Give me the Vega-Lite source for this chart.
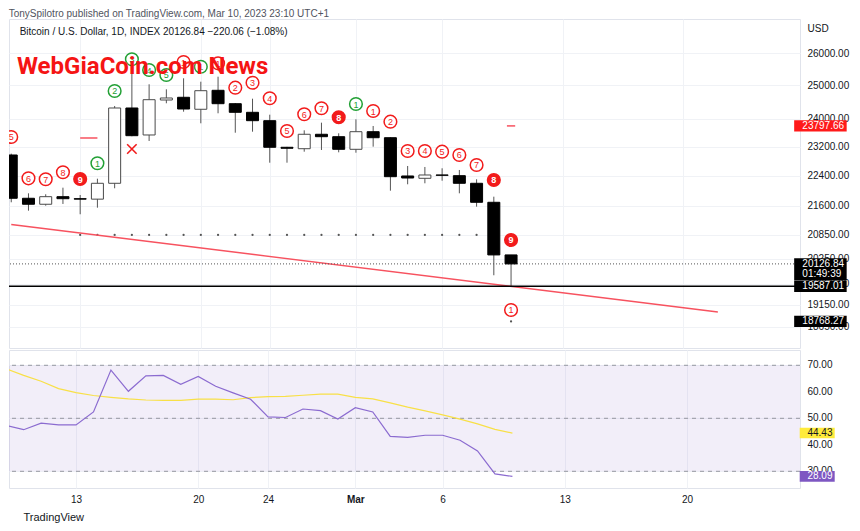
{
  "$schema": "https://vega.github.io/schema/vega-lite/v6.json",
  "background": "white",
  "padding": {"left": 7, "top": 8, "right": 0, "bottom": 0},
  "autosize": {"type": "pad"},
  "config": {
    "font": "Liberation Sans",
    "view": {"stroke": "#E0E3EB"},
    "axis": {"gridColor": "#F0F2F6", "labelColor": "#131722", "labelFontSize": 10, "ticks": false, "domain": false, "title": null, "labelFont": "Liberation Sans", "labelOverlap": false},
    "concat": {"spacing": 0}
  },
  "title": {"text": "TonySpilotro published on TradingView.com, Mar 10, 2023 23:10 UTC+1", "anchor": "start", "fontSize": 10, "fontWeight": "normal", "color": "#50535E", "offset": 0, "dx": 1},
  "spacing": 0,
  "datasets": {
    "candles": [
      {"date": "2023-02-09T00:00:00Z", "o": 22972, "h": 23010, "l": 21690, "c": 21796},
      {"date": "2023-02-10T00:00:00Z", "o": 21796, "h": 21928, "l": 21470, "c": 21638},
      {"date": "2023-02-11T00:00:00Z", "o": 21638, "h": 21902, "l": 21601, "c": 21838},
      {"date": "2023-02-12T00:00:00Z", "o": 21838, "h": 22078, "l": 21646, "c": 21785},
      {"date": "2023-02-13T00:00:00Z", "o": 21785, "h": 21883, "l": 21377, "c": 21773},
      {"date": "2023-02-14T00:00:00Z", "o": 21773, "h": 22320, "l": 21548, "c": 22196},
      {"date": "2023-02-15T00:00:00Z", "o": 22196, "h": 24380, "l": 22062, "c": 24321},
      {"date": "2023-02-16T00:00:00Z", "o": 24321, "h": 25450, "l": 23500, "c": 23517},
      {"date": "2023-02-17T00:00:00Z", "o": 23537, "h": 25031, "l": 23366, "c": 24567},
      {"date": "2023-02-18T00:00:00Z", "o": 24558, "h": 24879, "l": 24460, "c": 24618},
      {"date": "2023-02-19T00:00:00Z", "o": 24639, "h": 25214, "l": 24212, "c": 24291},
      {"date": "2023-02-20T00:00:00Z", "o": 24283, "h": 25110, "l": 23873, "c": 24837},
      {"date": "2023-02-21T00:00:00Z", "o": 24849, "h": 25263, "l": 24165, "c": 24448},
      {"date": "2023-02-22T00:00:00Z", "o": 24448, "h": 24466, "l": 23602, "c": 24194},
      {"date": "2023-02-23T00:00:00Z", "o": 24194, "h": 24597, "l": 23631, "c": 23949},
      {"date": "2023-02-24T00:00:00Z", "o": 23949, "h": 24124, "l": 22758, "c": 23188},
      {"date": "2023-02-25T00:00:00Z", "o": 23188, "h": 23200, "l": 22758, "c": 23160},
      {"date": "2023-02-26T00:00:00Z", "o": 23148, "h": 23671, "l": 23064, "c": 23557},
      {"date": "2023-02-27T00:00:00Z", "o": 23557, "h": 23891, "l": 23112, "c": 23488},
      {"date": "2023-02-28T00:00:00Z", "o": 23488, "h": 23585, "l": 23047, "c": 23131},
      {"date": "2023-03-01T00:00:00Z", "o": 23131, "h": 23989, "l": 23036, "c": 23631},
      {"date": "2023-03-02T00:00:00Z", "o": 23631, "h": 23795, "l": 23205, "c": 23459},
      {"date": "2023-03-03T00:00:00Z", "o": 23459, "h": 23470, "l": 21998, "c": 22375},
      {"date": "2023-03-04T00:00:00Z", "o": 22394, "h": 22667, "l": 22169, "c": 22339},
      {"date": "2023-03-05T00:00:00Z", "o": 22331, "h": 22640, "l": 22196, "c": 22421},
      {"date": "2023-03-06T00:00:00Z", "o": 22421, "h": 22604, "l": 22266, "c": 22413},
      {"date": "2023-03-07T00:00:00Z", "o": 22402, "h": 22558, "l": 21928, "c": 22196},
      {"date": "2023-03-08T00:00:00Z", "o": 22196, "h": 22304, "l": 21575, "c": 21690},
      {"date": "2023-03-09T00:00:00Z", "o": 21690, "h": 21838, "l": 19851, "c": 20346.9},
      {"date": "2023-03-10T00:00:00Z", "o": 20346.9, "h": 20347, "l": 19587.01, "c": 20126.84}
    ],
    "td": [
      {"date": "2023-02-09T00:00:00Z", "value": 23480, "n": "5", "kind": "sell"},
      {"date": "2023-02-10T00:00:00Z", "value": 22331, "n": "6", "kind": "sell"},
      {"date": "2023-02-11T00:00:00Z", "value": 22304, "n": "7", "kind": "sell"},
      {"date": "2023-02-12T00:00:00Z", "value": 22495, "n": "8", "kind": "sell"},
      {"date": "2023-02-13T00:00:00Z", "value": 22312, "n": "9", "kind": "sellfill"},
      {"date": "2023-02-14T00:00:00Z", "value": 22742, "n": "1", "kind": "buy"},
      {"date": "2023-02-15T00:00:00Z", "value": 24828, "n": "2", "kind": "buy"},
      {"date": "2023-02-16T00:00:00Z", "value": 25802, "n": "3", "kind": "buy"},
      {"date": "2023-02-17T00:00:00Z", "value": 25469, "n": "4", "kind": "buy"},
      {"date": "2023-02-18T00:00:00Z", "value": 25315, "n": "5", "kind": "buy"},
      {"date": "2023-02-19T00:00:00Z", "value": 25717, "n": "1", "kind": "sell"},
      {"date": "2023-02-20T00:00:00Z", "value": 25571, "n": "1", "kind": "buy"},
      {"date": "2023-02-21T00:00:00Z", "value": 25677, "n": "1", "kind": "sell"},
      {"date": "2023-02-22T00:00:00Z", "value": 24928, "n": "2", "kind": "sell"},
      {"date": "2023-02-23T00:00:00Z", "value": 25079, "n": "3", "kind": "sell"},
      {"date": "2023-02-24T00:00:00Z", "value": 24609, "n": "4", "kind": "sell"},
      {"date": "2023-02-25T00:00:00Z", "value": 23651, "n": "5", "kind": "sell"},
      {"date": "2023-02-26T00:00:00Z", "value": 24136, "n": "6", "kind": "sell"},
      {"date": "2023-02-27T00:00:00Z", "value": 24312, "n": "7", "kind": "sell"},
      {"date": "2023-02-28T00:00:00Z", "value": 24048, "n": "8", "kind": "sellfill"},
      {"date": "2023-03-01T00:00:00Z", "value": 24439, "n": "1", "kind": "buy"},
      {"date": "2023-03-02T00:00:00Z", "value": 24232, "n": "1", "kind": "sell"},
      {"date": "2023-03-03T00:00:00Z", "value": 23920, "n": "2", "kind": "sell"},
      {"date": "2023-03-04T00:00:00Z", "value": 23084, "n": "3", "kind": "sell"},
      {"date": "2023-03-05T00:00:00Z", "value": 23084, "n": "4", "kind": "sell"},
      {"date": "2023-03-06T00:00:00Z", "value": 23064, "n": "5", "kind": "sell"},
      {"date": "2023-03-07T00:00:00Z", "value": 22972, "n": "6", "kind": "sell"},
      {"date": "2023-03-08T00:00:00Z", "value": 22695, "n": "7", "kind": "sell"},
      {"date": "2023-03-09T00:00:00Z", "value": 22285, "n": "8", "kind": "sellfill"},
      {"date": "2023-03-10T00:00:00Z", "value": 20720, "n": "9", "kind": "sellfill"},
      {"date": "2023-03-10T00:00:00Z", "value": 19032, "n": "1", "kind": "sell"}
    ],
    "dots": [
      {"date": "2023-02-13T00:00:00Z", "value": 20846}, {"date": "2023-02-14T00:00:00Z", "value": 20846}, {"date": "2023-02-15T00:00:00Z", "value": 20846},
      {"date": "2023-02-16T00:00:00Z", "value": 20846}, {"date": "2023-02-17T00:00:00Z", "value": 20846}, {"date": "2023-02-18T00:00:00Z", "value": 20846},
      {"date": "2023-02-19T00:00:00Z", "value": 20846}, {"date": "2023-02-20T00:00:00Z", "value": 20846}, {"date": "2023-02-21T00:00:00Z", "value": 20846},
      {"date": "2023-02-22T00:00:00Z", "value": 20846}, {"date": "2023-02-23T00:00:00Z", "value": 20846}, {"date": "2023-02-24T00:00:00Z", "value": 20846},
      {"date": "2023-02-25T00:00:00Z", "value": 20846}, {"date": "2023-02-26T00:00:00Z", "value": 20846}, {"date": "2023-02-27T00:00:00Z", "value": 20846},
      {"date": "2023-02-28T00:00:00Z", "value": 20846}, {"date": "2023-03-01T00:00:00Z", "value": 20846}, {"date": "2023-03-02T00:00:00Z", "value": 20846},
      {"date": "2023-03-03T00:00:00Z", "value": 20846}, {"date": "2023-03-04T00:00:00Z", "value": 20846}, {"date": "2023-03-05T00:00:00Z", "value": 20846},
      {"date": "2023-03-06T00:00:00Z", "value": 20846}, {"date": "2023-03-07T00:00:00Z", "value": 20846}, {"date": "2023-03-08T00:00:00Z", "value": 20846},
      {"date": "2023-03-10T00:00:00Z", "value": 18768.27}
    ],
    "trend": [
      {"date": "2023-02-09T00:00:00Z", "value": 21111},
      {"date": "2023-03-22T00:00:00Z", "value": 18986}
    ],
    "risk": [
      {"start": "2023-02-13T00:00:00Z", "end": "2023-02-14T00:00:00Z", "value": 23451},
      {"start": "2023-03-09T18:15:00Z", "end": "2023-03-10T05:45:00Z", "value": 23797.66}
    ],
    "xmarks": [{"date": "2023-02-16T00:00:00Z", "value": 23140}],
    "tags": [
      {"value": 23797.66, "kind": "resistance", "sub": ""},
      {"value": 20126.84, "kind": "last", "sub": "01:49:39"},
      {"value": 19587.01, "kind": "low", "sub": ""},
      {"value": 18768.27, "kind": "support", "sub": ""}
    ],
    "notes": [
      {"text": "Bitcoin / U.S. Dollar, 1D, INDEX  20126.84  \u2212220.06 (\u22121.08%)", "kind": "header"},
      {"text": "WebGiaCoin.com News", "kind": "watermark"}
    ],
    "rsi": [
      {"date": "2023-02-09T00:00:00Z", "rsi": 47.3, "ma": 68.7},
      {"date": "2023-02-10T00:00:00Z", "rsi": 45.7, "ma": 66.2},
      {"date": "2023-02-11T00:00:00Z", "rsi": 48.2, "ma": 64.0},
      {"date": "2023-02-12T00:00:00Z", "rsi": 47.5, "ma": 61.2},
      {"date": "2023-02-13T00:00:00Z", "rsi": 47.5, "ma": 59.7},
      {"date": "2023-02-14T00:00:00Z", "rsi": 52.4, "ma": 58.6},
      {"date": "2023-02-15T00:00:00Z", "rsi": 68.2, "ma": 57.9},
      {"date": "2023-02-16T00:00:00Z", "rsi": 60.2, "ma": 57.3},
      {"date": "2023-02-17T00:00:00Z", "rsi": 66.0, "ma": 56.9},
      {"date": "2023-02-18T00:00:00Z", "rsi": 66.2, "ma": 56.8},
      {"date": "2023-02-19T00:00:00Z", "rsi": 62.8, "ma": 56.8},
      {"date": "2023-02-20T00:00:00Z", "rsi": 65.8, "ma": 57.2},
      {"date": "2023-02-21T00:00:00Z", "rsi": 62.1, "ma": 57.2},
      {"date": "2023-02-22T00:00:00Z", "rsi": 59.6, "ma": 57.0},
      {"date": "2023-02-23T00:00:00Z", "rsi": 57.2, "ma": 57.8},
      {"date": "2023-02-24T00:00:00Z", "rsi": 50.5, "ma": 58.2},
      {"date": "2023-02-25T00:00:00Z", "rsi": 50.3, "ma": 58.3},
      {"date": "2023-02-26T00:00:00Z", "rsi": 53.5, "ma": 58.7},
      {"date": "2023-02-27T00:00:00Z", "rsi": 52.9, "ma": 59.1},
      {"date": "2023-02-28T00:00:00Z", "rsi": 49.7, "ma": 59.1},
      {"date": "2023-03-01T00:00:00Z", "rsi": 54.0, "ma": 57.9},
      {"date": "2023-03-02T00:00:00Z", "rsi": 52.4, "ma": 57.3},
      {"date": "2023-03-03T00:00:00Z", "rsi": 43.2, "ma": 55.8},
      {"date": "2023-03-04T00:00:00Z", "rsi": 42.8, "ma": 54.2},
      {"date": "2023-03-05T00:00:00Z", "rsi": 43.6, "ma": 52.8},
      {"date": "2023-03-06T00:00:00Z", "rsi": 43.6, "ma": 51.3},
      {"date": "2023-03-07T00:00:00Z", "rsi": 41.7, "ma": 49.7},
      {"date": "2023-03-08T00:00:00Z", "rsi": 37.7, "ma": 47.9},
      {"date": "2023-03-09T00:00:00Z", "rsi": 29.0, "ma": 45.8},
      {"date": "2023-03-10T00:00:00Z", "rsi": 28.09, "ma": 44.43}
    ],
    "rsiBand": [{"low": 30, "high": 70}],
    "rsiLevels": [{"value": 70}, {"value": 50}, {"value": 30}],
    "rsiTicks": [{"value": 70}, {"value": 60}, {"value": 50}, {"value": 40}, {"value": 30}],
    "rsiTags": [
      {"value": 44.43, "kind": "ma"},
      {"value": 28.09, "kind": "rsi"}
    ]
  },
  "vconcat": [
    {
      "width": 791,
      "height": 329,
      "layer": [
        {
          "data": {"name": "candles"},
          "mark": {"type": "rule", "color": "#555555", "strokeWidth": 1, "clip": true},
          "encoding": {
            "x": {"field": "date", "type": "temporal",
              "scale": {"type": "utc", "domain": [{"year": 2023, "month": 2, "date": 9, "hours": 3, "minutes": 51, "utc": true}, {"year": 2023, "month": 3, "date": 26, "hours": 11, "minutes": 24, "utc": true}]},
              "axis": {"values": [{"year": 2023, "month": 2, "date": 13, "utc": true}, {"year": 2023, "month": 2, "date": 20, "utc": true}, {"year": 2023, "month": 2, "date": 24, "utc": true}, {"year": 2023, "month": 3, "date": 1, "utc": true}, {"year": 2023, "month": 3, "date": 6, "utc": true}, {"year": 2023, "month": 3, "date": 13, "utc": true}, {"year": 2023, "month": 3, "date": 20, "utc": true}], "labels": false, "grid": true}},
            "y": {"field": "l", "type": "quantitative",
              "scale": {"type": "log", "domain": [18173, 27096], "nice": false, "zero": false},
              "axis": {"orient": "right", "values": [26000, 25000, 24000, 23200, 22400, 21600, 20850, 20250, 19650, 19150, 18650], "format": ".2f", "labelPadding": 7, "labelAlign": "left", "grid": true, "labelOverlap": false,
                "title": "USD", "titleAngle": 0, "titleX": 7, "titleY": 9, "titleAlign": "left", "titleBaseline": "middle", "titleFontSize": 10, "titleFontWeight": "normal", "titleColor": "#131722", "titleFont": "Liberation Sans"}},
            "y2": {"field": "h"}
          }
        },
        {
          "data": {"name": "dots"},
          "mark": {"type": "point", "filled": true, "size": 5, "color": "#555555", "opacity": 1},
          "encoding": {
            "x": {"field": "date", "type": "temporal"},
            "y": {"field": "value", "type": "quantitative"}
          }
        },
        {
          "data": {"name": "trend"},
          "mark": {"type": "line", "color": "#F7525F", "strokeWidth": 1.5, "clip": true},
          "encoding": {
            "x": {"field": "date", "type": "temporal"},
            "y": {"field": "value", "type": "quantitative"}
          }
        },
        {
          "data": {"name": "tags"},
          "transform": [{"filter": "datum.kind == 'low'"}],
          "mark": {"type": "rule", "color": "#000000", "strokeWidth": 1.5},
          "encoding": {"y": {"field": "value", "type": "quantitative"}}
        },
        {
          "data": {"name": "tags"},
          "transform": [{"filter": "datum.kind == 'last'"}],
          "mark": {"type": "rule", "color": "#555555", "strokeWidth": 1, "strokeDash": [1, 2]},
          "encoding": {"y": {"field": "value", "type": "quantitative"}}
        },
        {
          "data": {"name": "candles"},
          "mark": {"type": "bar", "width": 12, "strokeWidth": 1, "clip": true},
          "encoding": {
            "x": {"field": "date", "type": "temporal"},
            "y": {"field": "o", "type": "quantitative"},
            "y2": {"field": "c"},
            "fill": {"condition": {"test": "datum.c >= datum.o", "value": "#FFFFFF"}, "value": "#000000"},
            "stroke": {"condition": {"test": "datum.c >= datum.o", "value": "#4A4A4A"}, "value": "#000000"}
          }
        },
        {
          "data": {"name": "risk"},
          "mark": {"type": "rule", "color": "#F7525F", "strokeWidth": 1.5},
          "encoding": {
            "x": {"field": "start", "type": "temporal"},
            "x2": {"field": "end"},
            "y": {"field": "value", "type": "quantitative"}
          }
        },
        {
          "data": {"name": "xmarks"},
          "mark": {"type": "point", "shape": "M -1 -1 L 1 1 M -1 1 L 1 -1", "filled": false, "size": 90, "stroke": "#F21B1B", "strokeWidth": 1.6, "opacity": 1},
          "encoding": {
            "x": {"field": "date", "type": "temporal"},
            "y": {"field": "value", "type": "quantitative"}
          }
        },
        {
          "data": {"name": "td"},
          "mark": {"type": "point", "shape": "circle", "size": 160, "strokeWidth": 1.5, "opacity": 1, "clip": true},
          "encoding": {
            "x": {"field": "date", "type": "temporal"},
            "y": {"field": "value", "type": "quantitative"},
            "fill": {"condition": {"test": "datum.kind == 'sellfill'", "value": "#F21B1B"}, "value": "#FFFFFF"},
            "stroke": {"condition": {"test": "datum.kind == 'buy'", "value": "#22A035"}, "value": "#F21B1B"}
          }
        },
        {
          "data": {"name": "td"},
          "transform": [{"filter": "datum.kind != 'sellfill'"}],
          "mark": {"type": "text", "fontSize": 9, "baseline": "middle", "align": "center", "dy": 0.5, "clip": true},
          "encoding": {
            "x": {"field": "date", "type": "temporal"},
            "y": {"field": "value", "type": "quantitative"},
            "text": {"field": "n"},
            "color": {"condition": {"test": "datum.kind == 'buy'", "value": "#22A035"}, "value": "#F21B1B"}
          }
        },
        {
          "data": {"name": "td"},
          "transform": [{"filter": "datum.kind == 'sellfill'"}],
          "mark": {"type": "text", "fontSize": 9, "fontWeight": "bold", "baseline": "middle", "align": "center", "dy": 0.5, "color": "#FFFFFF"},
          "encoding": {
            "x": {"field": "date", "type": "temporal"},
            "y": {"field": "value", "type": "quantitative"},
            "text": {"field": "n"}
          }
        },
        {
          "data": {"name": "notes"},
          "transform": [{"filter": "datum.kind == 'header'"}],
          "mark": {"type": "text", "fontSize": 10, "align": "left", "baseline": "middle", "color": "#131722"},
          "encoding": {
            "x": {"datum": {"year": 2023, "month": 2, "date": 9, "hours": 11, "minutes": 41, "utc": true}, "type": "temporal"},
            "y": {"datum": 26662, "type": "quantitative"},
            "text": {"field": "text"}
          }
        },
        {
          "data": {"name": "tags"},
          "transform": [{"filter": "datum.kind != 'last'"}],
          "mark": {"type": "point", "shape": "M -2.625 -0.56 H 2.625 V 0.56 H -2.625 Z", "size": 400, "filled": true, "opacity": 1},
          "encoding": {
            "x": {"datum": {"year": 2023, "month": 3, "date": 27, "hours": 22, "minutes": 48, "utc": true}, "type": "temporal"},
            "y": {"field": "value", "type": "quantitative"},
            "fill": {"condition": {"test": "datum.kind == 'resistance'", "value": "#FF1A1A"}, "value": "#000000"}
          }
        },
        {
          "data": {"name": "tags"},
          "transform": [{"filter": "datum.kind == 'last'"}],
          "mark": {"type": "point", "shape": "M -2.625 -0.57 H 2.625 V 1.67 H -2.625 Z", "size": 400, "filled": true, "opacity": 1, "color": "#000000"},
          "encoding": {
            "x": {"datum": {"year": 2023, "month": 3, "date": 27, "hours": 22, "minutes": 48, "utc": true}, "type": "temporal"},
            "y": {"field": "value", "type": "quantitative"}
          }
        },
        {
          "data": {"name": "tags"},
          "mark": {"type": "text", "fontSize": 10, "align": "left", "baseline": "middle", "color": "#FFFFFF"},
          "encoding": {
            "x": {"datum": {"year": 2023, "month": 3, "date": 26, "hours": 21, "minutes": 36, "utc": true}, "type": "temporal"},
            "y": {"field": "value", "type": "quantitative"},
            "text": {"field": "value", "type": "quantitative", "format": ".2f"}
          }
        },
        {
          "data": {"name": "tags"},
          "transform": [{"filter": "datum.kind == 'last'"}],
          "mark": {"type": "text", "fontSize": 10, "align": "left", "baseline": "middle", "color": "#FFFFFF", "dy": 10.5},
          "encoding": {
            "x": {"datum": {"year": 2023, "month": 3, "date": 26, "hours": 21, "minutes": 36, "utc": true}, "type": "temporal"},
            "y": {"field": "value", "type": "quantitative"},
            "text": {"field": "sub"}
          }
        },
        {
          "data": {"name": "notes"},
          "transform": [{"filter": "datum.kind == 'watermark'"}],
          "mark": {"type": "text", "fontSize": 24, "fontWeight": "bold", "font": "Roboto", "align": "left", "baseline": "alphabetic", "color": "#F51414"},
          "encoding": {
            "x": {"datum": {"year": 2023, "month": 2, "date": 9, "hours": 8, "utc": true}, "type": "temporal"},
            "y": {"datum": 25346, "type": "quantitative"},
            "text": {"field": "text"}
          }
        }
      ]
    },
    {
      "width": 791,
      "height": 138,
      "title": {"text": "TradingView", "orient": "bottom", "anchor": "start", "fontSize": 11, "fontWeight": "normal", "color": "#131722", "offset": 8, "dx": 15},
      "layer": [
        {
          "data": {"name": "rsiBand"},
          "mark": {"type": "rect", "color": "#7E57C2", "opacity": 0.1},
          "encoding": {
            "y": {"field": "low", "type": "quantitative",
              "scale": {"domain": [23.7, 75.77], "nice": false, "zero": false},
              "axis": {"orient": "right", "values": [30, 40, 50, 60, 70], "labels": false, "grid": true}},
            "y2": {"field": "high"}
          }
        },
        {
          "data": {"name": "rsiLevels"},
          "mark": {"type": "rule", "color": "#9598A1", "strokeDash": [4, 4], "strokeWidth": 1},
          "encoding": {"y": {"field": "value", "type": "quantitative"}}
        },
        {
          "data": {"name": "rsi"},
          "mark": {"type": "line", "color": "#F8E047", "strokeWidth": 1.2, "clip": true},
          "encoding": {
            "x": {"field": "date", "type": "temporal",
              "scale": {"type": "utc", "domain": [{"year": 2023, "month": 2, "date": 9, "hours": 3, "minutes": 51, "utc": true}, {"year": 2023, "month": 3, "date": 26, "hours": 11, "minutes": 24, "utc": true}]},
              "axis": {"values": [{"year": 2023, "month": 2, "date": 13, "utc": true}, {"year": 2023, "month": 2, "date": 20, "utc": true}, {"year": 2023, "month": 2, "date": 24, "utc": true}, {"year": 2023, "month": 3, "date": 1, "utc": true}, {"year": 2023, "month": 3, "date": 6, "utc": true}, {"year": 2023, "month": 3, "date": 13, "utc": true}, {"year": 2023, "month": 3, "date": 20, "utc": true}],
                "labelExpr": "utcdate(datum.value) == 1 ? utcFormat(datum.value, '%b') : utcFormat(datum.value, '%-d')",
                "labelFontWeight": {"condition": {"test": "utcdate(datum.value) == 1", "value": "bold"}, "value": "normal"},
                "labelPadding": 6, "grid": true}},
            "y": {"field": "ma", "type": "quantitative"}
          }
        },
        {
          "data": {"name": "rsi"},
          "mark": {"type": "line", "color": "#8B6BD0", "strokeWidth": 1.2, "clip": true},
          "encoding": {
            "x": {"field": "date", "type": "temporal"},
            "y": {"field": "rsi", "type": "quantitative"}
          }
        },
        {
          "data": {"name": "rsiTicks"},
          "mark": {"type": "text", "fontSize": 10, "align": "left", "baseline": "middle", "color": "#131722"},
          "encoding": {
            "x": {"datum": {"year": 2023, "month": 3, "date": 26, "hours": 21, "minutes": 36, "utc": true}, "type": "temporal"},
            "y": {"field": "value", "type": "quantitative"},
            "text": {"field": "value", "type": "quantitative", "format": ".2f"}
          }
        },
        {
          "data": {"name": "rsiTags"},
          "mark": {"type": "point", "shape": "M -1.75 -0.53 H 1.75 V 0.53 H -1.75 Z", "size": 400, "filled": true, "opacity": 1},
          "encoding": {
            "x": {"datum": {"year": 2023, "month": 3, "date": 27, "hours": 11, "minutes": 3, "utc": true}, "type": "temporal"},
            "y": {"field": "value", "type": "quantitative"},
            "fill": {"condition": {"test": "datum.kind == 'ma'", "value": "#FFEB3B"}, "value": "#7E57C2"}
          }
        },
        {
          "data": {"name": "rsiTags"},
          "mark": {"type": "text", "fontSize": 10, "align": "left", "baseline": "middle"},
          "encoding": {
            "x": {"datum": {"year": 2023, "month": 3, "date": 26, "hours": 21, "minutes": 36, "utc": true}, "type": "temporal"},
            "y": {"field": "value", "type": "quantitative"},
            "text": {"field": "value", "type": "quantitative", "format": ".2f"},
            "color": {"condition": {"test": "datum.kind == 'ma'", "value": "#131722"}, "value": "#FFFFFF"}
          }
        }
      ]
    }
  ]
}
